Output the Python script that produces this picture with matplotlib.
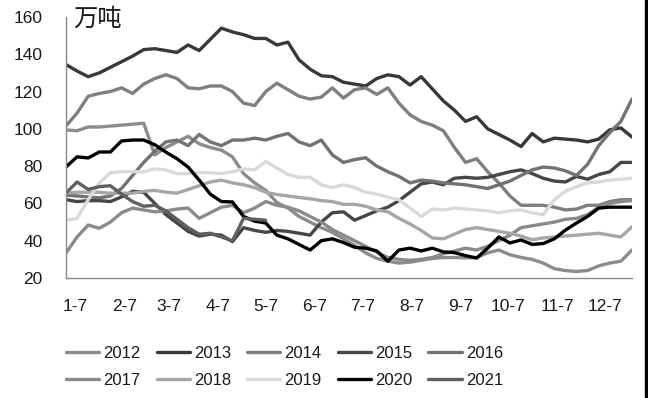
import numpy as np
import matplotlib
matplotlib.use("Agg")
import matplotlib.pyplot as plt
from matplotlib.patches import Rectangle

plt.rcParams['font.family'] = ['Liberation Sans', 'Noto Sans CJK SC', 'DejaVu Sans']

years = ["2012", "2013", "2014", "2015", "2016", "2017", "2018", "2019", "2020", "2021"]
colors = ["#8c8c8c", "#383838", "#7f7f7f", "#464646", "#727272",
          "#8a8a8a", "#a6a6a6", "#d9d9d9", "#000000", "#5f5f5f"]

month_labels = ["1-7", "2-7", "3-7", "4-7", "5-7", "6-7", "7-7", "8-7", "9-7", "10-7", "11-7", "12-7"]
month_days = [6, 37, 65, 96, 126, 157, 187, 218, 249, 279, 310, 340]

s2012 = [99.4, 99, 101, 101, 101.5, 102, 102.5, 103, 86, 90, 93, 96, 92, 90, 88.6, 85,
         76, 71, 67, 60.5, 57.5, 53, 50, 47, 44.5, 41, 37.5, 33.5, 30.5, 29, 28, 28.5,
         29.5, 30.5, 31, 31, 30.8, 31, 33.5, 35, 32.5, 31, 30, 28, 25, 24, 23.5, 24,
         26.5, 28, 29, 35]
s2013 = [134.5, 131, 128, 130, 133, 136, 139, 142.5, 143, 142, 141, 145, 142, 148, 154, 152,
         150.5, 148.5, 148.5, 145, 146.5, 137, 132, 128.5, 128, 125, 124, 123, 127, 129, 128, 123.5,
         128, 121.5, 115, 110, 104, 106.5, 100, 97, 94, 90.5, 97.5, 93, 95, 94.5, 94, 93,
         94.5, 99.5, 100.5, 95.6]
s2014 = [101.5, 108.5, 117.5, 119, 120, 122, 119, 124, 127, 129, 127, 122, 121.5, 123, 123, 120,
         113.8, 112.5, 120, 124.5, 121, 117.5, 116, 117, 122, 116.5, 121, 122, 118.5, 122, 113.8, 107.5,
         104, 102, 99, 90, 82, 84, 77, 71, 64, 59, 59, 59, 58, 56.5, 57, 59,
         59, 61, 62, 62]
s2015 = [62, 61, 61.5, 61.5, 61, 63.5, 66.5, 66, 60, 54, 49.5, 45, 42.5, 43.5, 43, 39.5,
         47, 45.5, 44.5, 45.5, 45, 44, 43, 50, 55, 55.5, 51, 53.5, 56, 58, 61.5, 66,
         70.5, 71.5, 70, 73.5, 74, 73.5, 74, 75.5, 77, 78, 76, 73.5, 72, 71.5, 74.5, 73,
         75.5, 77, 82, 82]
s2016 = [64.5, 64, 63.5, 63, 64, 68, 75, 82, 88, 93, 94, 91, 97, 93, 91, 94,
         94, 95, 94, 96, 97.5, 93, 91, 94, 86, 82, 83.5, 84.5, 80, 77, 74.5, 71,
         72.5, 72, 71, 70.5, 70, 69, 68, 70, 72, 75, 78, 79.5, 79, 77.5, 75, 81,
         91, 98, 104, 116]
s2017 = [33.4, 42, 48.4, 46.7, 50, 55, 57.5, 56.5, 55.5, 56, 57, 57.5, 52, 55, 58, 59,
         55, 57.5, 61, 59, 58, 56, 53, 50, 46, 43, 40, 37, 34, 31, 30, 29.5,
         30, 31, 33, 34.5, 36, 35, 37, 40, 43, 47, 48, 49, 50, 51.5, 52, 54,
         58, 60, 61, 61.5]
s2018 = [65.5, 66, 66, 66, 65.5, 65.5, 65.5, 66.5, 67, 66, 65.5, 67.5, 69.5, 71.5, 72.5, 71,
         70, 68.5, 66, 64.8, 64, 63.2, 62.5, 61.5, 61, 59.5, 59.5, 58.5, 56.5, 55.5, 52, 49,
         45.5, 41.5, 41, 43.5, 46, 47, 46, 45, 44, 42.5, 40.5, 41.5, 42, 42.5, 43, 43.5,
         44, 43, 42, 47.5]
s2019 = [51, 52, 62, 71, 76.5, 77, 77, 77, 78.5, 78, 76, 76, 76.5, 76.5, 76, 77,
         78.5, 78, 82.5, 79, 75.5, 74, 74, 70, 68.5, 70, 68.5, 66, 65, 63.4, 62, 57.5,
         53, 57, 56.5, 57.5, 57, 56.5, 56, 55, 56, 56.5, 55, 54, 62, 66.5, 69, 71,
         71.5, 72.5, 73, 73.6]
s2020 = [79.6, 85, 84.4, 87.6, 87.6, 93.5, 94, 94, 91.5, 87.5, 84, 79.5, 72.5, 65, 61, 60.8,
         53, 50.5, 49.5, 43, 41, 38, 35, 40, 41, 39, 36.5, 36, 34.5, 29, 35, 36,
         34.5, 36, 34, 33.6, 32, 30.7, 36, 42, 38.8, 40.4, 38, 38.5, 41, 45.7, 49.5, 53,
         57.5, 58, 58, 58]
s2021 = [65.6, 71.5, 67.5, 69, 69.5, 65, 61, 58.5, 59, 56, 51.5, 47, 43.5, 44, 42, 40,
         52, 51.5, 51]

series = [s2012, s2013, s2014, s2015, s2016, s2017, s2018, s2019, s2020, s2021]

fig = plt.figure(figsize=(6.48, 3.98), dpi=100)
ax = fig.add_axes([66/648, 1 - 278/398, (632 - 66)/648, (278 - 17)/398])

handles = []
for name, col, vals in zip(years, colors, series):
    x = np.arange(len(vals)) * 7
    h, = ax.plot(x, vals, color=col, lw=2.4, label=name, solid_capstyle='round',
                 solid_joinstyle='round')
    handles.append(h)

ax.set_xlim(0, 357)
ax.set_ylim(20, 160)
ax.set_yticks(np.arange(20, 161, 20))
ax.set_xticks(month_days)
ax.set_xticklabels(month_labels)
ax.tick_params(axis='both', length=0, labelsize=12.5, colors='#1a1a1a')
ax.tick_params(axis='y', pad=17)
ax.tick_params(axis='x', pad=15)
for side in ['top', 'right']:
    ax.spines[side].set_visible(False)
for side in ['left', 'bottom']:
    ax.spines[side].set_color('#8a8a8a')
    ax.spines[side].set_linewidth(1.0)

fig.text(73/648, 1 - 19/398, "万吨", fontsize=17.5, family=['Noto Sans CJK SC'],
         va='center', ha='left', color='#1a1a1a')

# legend filled row by row (5 per row)
order = [0, 5, 1, 6, 2, 7, 3, 8, 4, 9]
leg = fig.legend([handles[k] for k in order], [years[k] for k in order],
                 loc='center left', bbox_to_anchor=(66/648, 1 - 367/398), ncol=5,
                 frameon=False, fontsize=12, handlelength=2.0, handletextpad=0.25,
                 columnspacing=0.95, labelspacing=0.7, borderpad=0, borderaxespad=0)
for t in leg.get_texts():
    t.set_color('#1a1a1a')

fig.patches.append(Rectangle((645/648, 0), 3/648, 1, transform=fig.transFigure,
                             color='black', zorder=10))

fig.savefig("out.png", dpi=100)
